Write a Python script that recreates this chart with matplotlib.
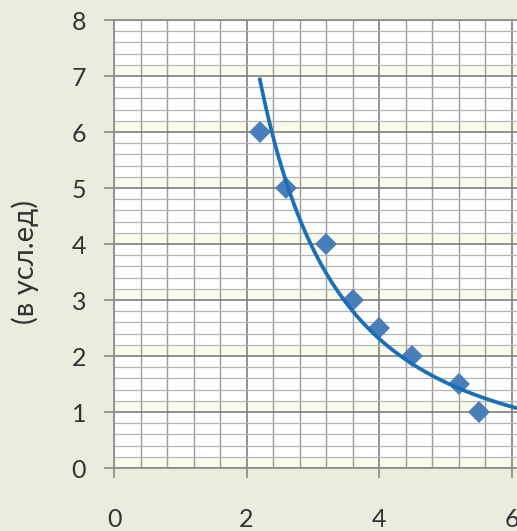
import numpy as np
import matplotlib.pyplot as plt
from matplotlib.ticker import MultipleLocator

# точки (x, y)
x_pts = [2.2, 2.6, 3.2, 3.6, 4.0, 4.5, 5.2, 5.5]
y_pts = [6, 5, 4, 3, 2.5, 2, 1.5, 1]
x_ticks = [0, 2, 4, 6, 8]
y_ticks = [0, 1, 2, 3, 4, 5, 6, 7, 8]

plt.rcParams['font.family'] = ['Lato', 'DejaVu Sans']

fig = plt.figure(figsize=(5.17, 5.31), dpi=100)
fig.patch.set_facecolor('#E9EDDD')
# ось шире картинки - справа обрезано как в оригинале
ax = fig.add_axes([114/517, 1 - 468/531, 8*66.3/517, 448/531])
ax.set_facecolor('white')

ax.set_xlim(0, 8)
ax.set_ylim(0, 8)
ax.set_xticks(x_ticks)
ax.set_yticks(y_ticks)
ax.xaxis.set_minor_locator(MultipleLocator(0.4))
ax.yaxis.set_minor_locator(MultipleLocator(0.2))

# бледно-жёлтые полосы над каждой целой линией
for v in y_ticks[:-1]:
    ax.axhspan(v, v + 0.2, color='#FAFBEA', zorder=0, lw=0)

ax.grid(which='major', color='#7f7f7f', lw=1.2, zorder=1)
ax.grid(which='minor', axis='x', color='#9a9a9a', lw=1.0, zorder=1)
ax.grid(which='minor', axis='y', color='#b4b4b4', lw=0.9, zorder=1)
ax.set_axisbelow(True)

for s in ['left', 'bottom', 'top']:
    ax.spines[s].set_color('#8a8a8a')
    ax.spines[s].set_linewidth(1.2)
ax.spines['right'].set_visible(False)

ax.tick_params(which='major', length=7, width=1.2, color='#8a8a8a',
               labelsize=18, labelcolor='#333333')
ax.tick_params(axis='y', pad=13)
ax.tick_params(axis='x', pad=22)
ax.tick_params(which='minor', length=0)

ax.plot(x_pts, y_pts, 'D', color='#4A7EBB', ms=11, mew=0, zorder=3)

# степенная линия тренда (как в Excel)
b, lna = np.polyfit(np.log(x_pts), np.log(y_pts), 1)
xt = np.linspace(min(x_pts), 8, 200)
ax.plot(xt, np.exp(lna) * xt**b, color='#1B6FB6', lw=2.7, zorder=4)

fig.text(25/517, 1 - 262/531, '(в усл.ед)', rotation=90, fontsize=21,
         color='#333333', ha='center', va='center')

fig.savefig('out.png', dpi=100, facecolor=fig.get_facecolor())
